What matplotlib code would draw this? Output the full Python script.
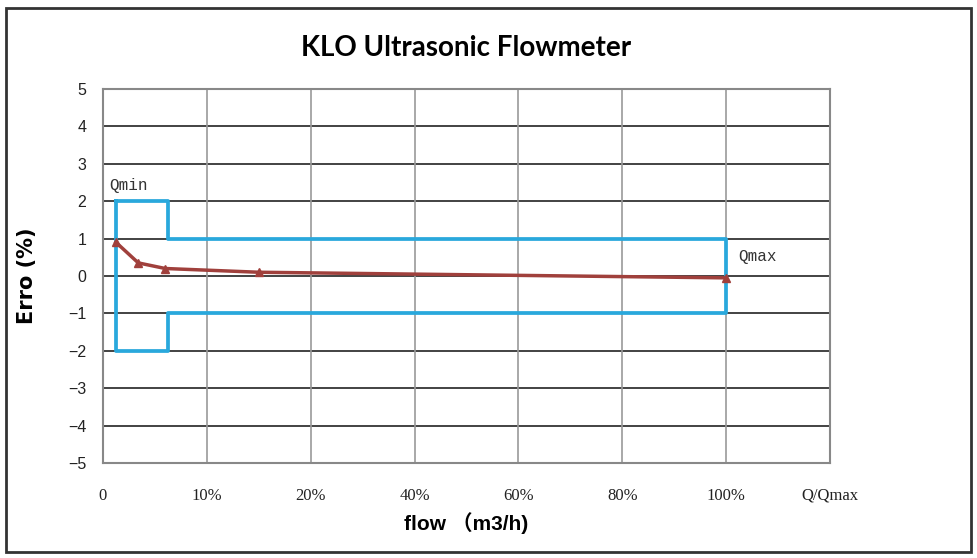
import matplotlib.pyplot as plt
from matplotlib.patches import Rectangle

# 数据
tick_pos = [0, 1, 2, 3, 4, 5, 6, 7]
tick_labels = ['0', '10%', '20%', '40%', '60%', '80%', '100%', 'Q/Qmax']
flow_x = [0.125, 0.34, 0.6, 1.5, 6.0]
error_y = [0.9, 0.35, 0.2, 0.1, -0.05]
limit_x = [0.125, 0.63, 0.63, 6.0, 6.0, 0.63, 0.63, 0.125, 0.125]
limit_y = [2, 2, 1, 1, -1, -1, -2, -2, 2]

fig = plt.figure(figsize=(9.77, 5.58), dpi=100)
ax = fig.add_axes([0.1054, 0.1703, 0.7441, 0.6702])

# 外框
fig.patches.append(Rectangle((0.006, 0.011), 0.988, 0.975, transform=fig.transFigure,
                             fill=False, edgecolor='#333333', linewidth=2))

ax.set_xlim(0, 7)
ax.set_ylim(-5, 5)
ax.set_xticks(tick_pos)
ax.set_xticklabels(tick_labels, family='Liberation Serif', fontsize=12, color='#222222')
ax.set_yticks(range(-5, 6))
ax.set_yticklabels([str(v).replace('-', '\u2212') for v in range(-5, 6)],
                   family='Liberation Sans', fontsize=11.5, color='#222222')
ax.tick_params(length=0)
ax.tick_params(axis='y', pad=12)
ax.tick_params(axis='x', pad=18)

for v in range(-4, 5):
    ax.axhline(v, color='#222222', linewidth=1.2, zorder=1)
for v in range(1, 7):
    ax.axvline(v, color='#999999', linewidth=1.2, zorder=1)
for s in ax.spines.values():
    s.set_color('#888888')
    s.set_linewidth(1.5)

ax.plot(limit_x, limit_y, color='#29a8dc', linewidth=2.7, zorder=3)
ax.plot(flow_x, error_y, color='#a0403c', linewidth=2.5, marker='^',
        markersize=6, zorder=4)

ax.text(0.06, 2.3, 'Qmin', family='Liberation Mono', fontsize=11.5, color='#333333')
ax.text(6.12, 0.4, 'Qmax', family='Liberation Mono', fontsize=11.5, color='#333333')

ax.set_title('KLO Ultrasonic Flowmeter', fontsize=20, fontweight='bold', pad=24,
             family='Lato')
ax.set_ylabel('Erro (%)', fontsize=15, fontweight='bold', labelpad=22)
ax.set_xlabel('flow \uff08m3/h)', fontsize=15, fontweight='bold',
              family=['Liberation Sans', 'Noto Sans CJK SC'], labelpad=6)

fig.savefig('out.png', dpi=100)
